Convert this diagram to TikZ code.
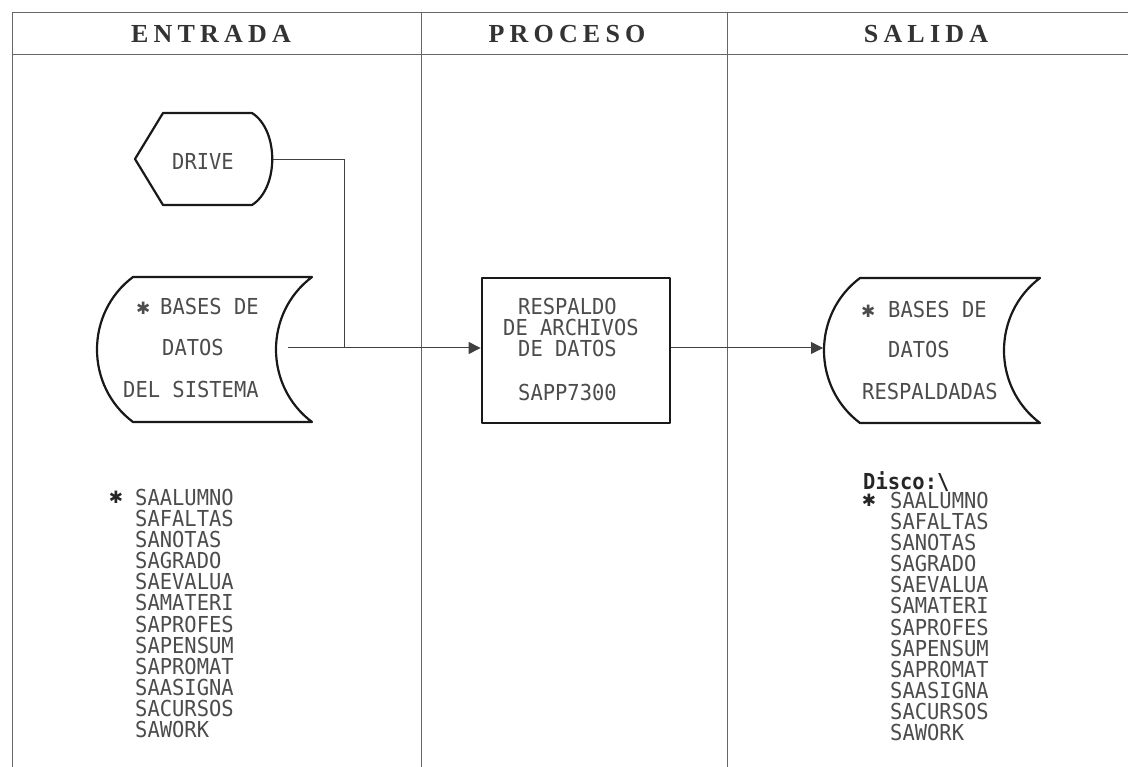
\documentclass[tikz,border=0pt]{standalone}
\usepackage{fontspec}
\usetikzlibrary{arrows.meta}
\newfontfamily\dotfont[FakeStretch=0.93]{DejaVu Sans Mono}
\newfontfamily\headfont[LetterSpace=20]{Liberation Serif}
\newfontfamily\starfont{DejaVu Sans}
\newcommand{\starsym}{{\starfont\fontsize{17}{17}\selectfont\char"2731}}
\begin{document}
\begin{tikzpicture}[x=1pt,y=-1pt,
  frame/.style={line width=1pt, draw=black!60},
  shp/.style={line width=2.2pt, draw=black!90, line join=round},
  conn/.style={line width=1pt, draw=black!75},
  arr/.style={conn, -{Triangle[length=12pt,width=12pt]}},
  txt/.style={font=\dotfont\fontsize{22}{22}\selectfont, text=black!70, inner sep=0pt, anchor=base west},
  head/.style={font=\headfont\bfseries\fontsize{26}{26}\selectfont, text=black!80, inner sep=0pt}]
\useasboundingbox (0,0) rectangle (1128,767);
\fill[white] (0,0) rectangle (1128,767);

% frame
\draw[frame] (1128,13) -- (12,13) -- (12,767);
\draw[frame] (12,55) -- (1128,55);
\draw[frame] (421,13) -- (421,767);
\draw[frame] (727,13) -- (727,767);

% headers
\node[head] (hE) at (211,34) {ENTRADA};
\node[head] (hP) at (567,34) {PROCESO};
\node[head] (hS) at (926,34) {SALIDA};

% DRIVE (display symbol)
\draw[shp] (135,159) -- (163,113) -- (252,113) .. controls (279,130) and (279,188) .. (252,205) -- (163,205) -- cycle;
\node[txt] (tDrive) at (172,170) {DRIVE};
\coordinate (driveE) at (273,160);

% stored data (input)
\draw[shp] (133,277) -- (312,277) .. controls (264,313) and (264,386) .. (312,422) -- (133,422) .. controls (85,386) and (85,313) .. (133,277) -- cycle;
\node[txt] (tIn1) at (136,315) {\makebox[24pt][l]{\starsym}BASES DE};
\node[txt] (tIn2) at (162,356) {DATOS};
\node[txt] (tIn3) at (123,398) {DEL SISTEMA};
\coordinate (dbE) at (288,348);
\coordinate (jn) at (344,348);

% process
\node[shp, draw, line width=2.8pt, minimum width=188pt, minimum height=145pt, inner sep=0pt] (proc) at (576,350.5) {};
\node[txt] (tP1) at (518,315) {RESPALDO};
\node[txt] (tP2) at (503,336) {DE ARCHIVOS};
\node[txt] (tP3) at (518,357) {DE DATOS};
\node[txt] (tP4) at (518,401) {SAPP7300};

% stored data (output)
\draw[shp] (860,278) -- (1040,278) .. controls (992,314) and (992,387) .. (1040,423) -- (860,423) .. controls (812,387) and (812,314) .. (860,278) -- cycle;
\node[txt] (tO1) at (861,318) {\makebox[27pt][l]{\starsym}BASES DE};
\node[txt] (tO2) at (888,358) {DATOS};
\node[txt] (tO3) at (862,400) {RESPALDADAS};
\coordinate (outW) at (823,348);

% connectors
\draw[conn] (driveE) -| (jn);
\draw[arr] (dbE) -- (proc.west |- dbE);
\draw[arr] (proc.east |- dbE) -- (outW);

% lists
\node[text=black!85, inner sep=0pt] (starL) at (116,497) {\starsym};
\foreach \n [count=\i from 0] in {SAALUMNO,SAFALTAS,SANOTAS,SAGRADO,SAEVALUA,SAMATERI,SAPROFES,SAPENSUM,SAPROMAT,SAASIGNA,SACURSOS,SAWORK}{
  \node[txt] (l\i) at (135,{505+21.18*\i}) {\n};
  \node[txt] (r\i) at (890,{508+21.18*\i}) {\n};
}
\node[text=black!85, inner sep=0pt] (starR) at (869,500) {\starsym};
\node[txt, font=\dotfont\bfseries\fontsize{22}{22}\selectfont, text=black!85] (disco) at (863,489) {Disco:\textbackslash};
\end{tikzpicture}
\end{document}
